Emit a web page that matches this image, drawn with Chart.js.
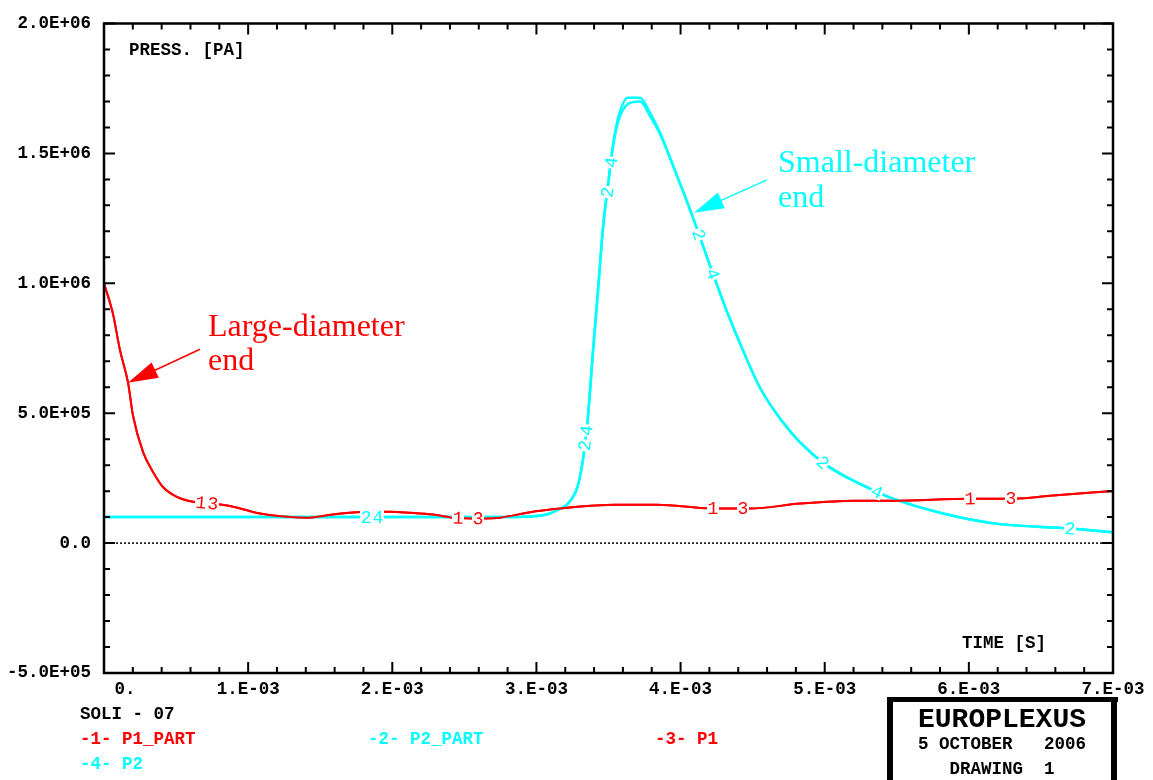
<!DOCTYPE html>
<html>
<head>
<meta charset="utf-8">
<script src="https://cdn.jsdelivr.net/npm/chart.js@4.4.0/dist/chart.umd.min.js"></script>
<style>
  html, body { margin: 0; padding: 0; background: #fff; }
  canvas { display: block; }
</style>
</head>
<body>
<canvas id="grafico" width="1153" height="780"></canvas>
<script>
// tempo [s] e pressao [Pa] de cada curva
const tempoP1 = [0, 0.062e-3, 0.111e-3, 0.167e-3, 0.201e-3, 0.271e-3, 0.340e-3, 0.409e-3, 0.506e-3, 0.617e-3,
  0.756e-3, 0.895e-3, 1.082e-3, 1.242e-3, 1.408e-3, 1.589e-3, 1.825e-3, 1.984e-3, 2.123e-3, 2.283e-3,
  2.421e-3, 2.629e-3, 2.747e-3, 2.976e-3, 3.094e-3, 3.300e-3, 3.538e-3, 3.837e-3, 4.218e-3, 4.482e-3,
  4.829e-3, 5.203e-3, 5.474e-3, 6.008e-3, 6.313e-3, 6.563e-3, 7.0e-3];
const pressaoP1Part = [1.0e6, 8.83e5, 7.42e5, 6.17e5, 4.91e5, 3.50e5, 2.74e5, 2.16e5, 1.78e5, 1.59e5,
  1.52e5, 1.40e5, 1.14e5, 1.02e5, 0.98e5, 1.10e5, 1.21e5, 1.21e5, 1.17e5, 1.10e5,
  0.98e5, 0.95e5, 0.98e5, 1.21e5, 1.29e5, 1.41e5, 1.48e5, 1.48e5, 1.33e5, 1.33e5,
  1.52e5, 1.63e5, 1.63e5, 1.71e5, 1.71e5, 1.82e5, 2.01e5];
const pressaoP1 = [1.0e6, 8.83e5, 7.42e5, 6.17e5, 4.91e5, 3.50e5, 2.74e5, 2.16e5, 1.78e5, 1.59e5,
  1.52e5, 1.40e5, 1.14e5, 1.02e5, 0.98e5, 1.10e5, 1.21e5, 1.21e5, 1.17e5, 1.10e5,
  0.98e5, 0.95e5, 0.98e5, 1.21e5, 1.29e5, 1.41e5, 1.48e5, 1.48e5, 1.33e5, 1.33e5,
  1.52e5, 1.63e5, 1.63e5, 1.71e5, 1.71e5, 1.82e5, 2.01e5];

const tempoP2 = [0, 1.0e-3, 2.0e-3, 2.8e-3, 3.0e-3, 3.094e-3, 3.164e-3, 3.212e-3, 3.289e-3, 3.323e-3,
  3.358e-3, 3.393e-3, 3.427e-3, 3.462e-3, 3.497e-3, 3.531e-3, 3.566e-3, 3.635e-3, 3.719e-3, 3.788e-3,
  3.857e-3, 3.968e-3, 4.086e-3, 4.225e-3, 4.322e-3, 4.412e-3, 4.551e-3, 4.711e-3, 4.829e-3, 5.002e-3,
  5.175e-3, 5.363e-3, 5.474e-3, 5.821e-3, 6.188e-3, 6.709e-3, 7.0e-3];
const pressaoP2Part = [1.0e5, 1.0e5, 1.0e5, 1.0e5, 1.04e5, 1.14e5, 1.33e5, 1.48e5, 2.24e5, 3.23e5,
  4.91e5, 7.42e5, 9.71e5, 1.215e6, 1.379e6, 1.531e6, 1.634e6, 1.714e6, 1.714e6, 1.656e6,
  1.58e6, 1.424e6, 1.253e6, 1.036e6, 8.91e5, 7.69e5, 5.98e5, 4.64e5, 3.88e5, 3.04e5,
  2.47e5, 1.97e5, 1.71e5, 1.14e5, 7.5e4, 5.6e4, 4.1e4];
const pressaoP2 = [1.0e5, 1.0e5, 1.0e5, 1.0e5, 1.04e5, 1.14e5, 1.33e5, 1.48e5, 2.24e5, 3.23e5,
  4.91e5, 7.42e5, 9.71e5, 1.215e6, 1.379e6, 1.525e6, 1.62e6, 1.69e6, 1.70e6, 1.645e6,
  1.575e6, 1.424e6, 1.253e6, 1.036e6, 8.91e5, 7.69e5, 5.98e5, 4.64e5, 3.88e5, 3.04e5,
  2.47e5, 1.97e5, 1.71e5, 1.14e5, 7.5e4, 5.6e4, 4.1e4];

const nomes = ["P1_PART", "P2_PART", "P1", "P2"];
const cores = ["#ff0000", "#00ffff", "#ff0000", "#00ffff"];
const espessuras = [2, 2.5, 2, 2.5];

// instantes onde o numero da curva e escrito sobre ela
const marcasCurva = [
  [0.673e-3, 2.456e-3, 4.225e-3, 6.008e-3],
  [1.818e-3, 3.334e-3, 3.491e-3, 4.128e-3, 4.988e-3, 6.702e-3],
  [0.756e-3, 2.595e-3, 4.433e-3, 6.292e-3],
  [1.901e-3, 3.346e-3, 3.517e-3, 4.225e-3, 5.363e-3]
];

const xTicksValores = [0, 1e-3, 2e-3, 3e-3, 4e-3, 5e-3, 6e-3, 7e-3];
const xTicksTextos = ["0.", "1.E-03", "2.E-03", "3.E-03", "4.E-03", "5.E-03", "6.E-03", "7.E-03"];
const yTicksValores = [-5e5, 0, 5e5, 1e6, 1.5e6, 2e6];
const yTicksTextos = ["-5.0E+05", "0.0", "5.0E+05", "1.0E+06", "1.5E+06", "2.0E+06"];

// setas com texto: ponta, cauda e texto em coordenadas dos dados
const setas = [
  { cor: "#ff0000", ponta: [0.1665e-3, 6.17e5], cauda: [0.666e-3, 7.46e5],
    texto: ["Large-diameter", "end"], pos: [0.7215e-3, 7.96e5], passo: 34 },
  { cor: "#00ffff", ponta: [4.093e-3, 1.272e6], cauda: [4.600e-3, 1.398e6],
    texto: ["Small-diameter", "end"], pos: [4.676e-3, 1.428e6], passo: 35 }
];

const MONO = "'Liberation Mono', 'Courier New', monospace";

function serie(t, p) {
  return t.map((v, i) => ({ x: v, y: p[i] }));
}

function rotulo(v, valores, textos, tol) {
  const i = valores.findIndex(a => Math.abs(a - v) < tol);
  return i < 0 ? "" : textos[i];
}

function pontoNaCurva(chart, idx, xv) {
  const d = chart.data.datasets[idx].data;
  const xs = chart.scales.x, ys = chart.scales.y;
  for (let i = 0; i < d.length - 1; i++) {
    if (xv >= d[i].x && xv <= d[i + 1].x) {
      const t = (xv - d[i].x) / (d[i + 1].x - d[i].x);
      const yv = d[i].y + t * (d[i + 1].y - d[i].y);
      const ang = Math.atan2(ys.getPixelForValue(d[i + 1].y) - ys.getPixelForValue(d[i].y),
        xs.getPixelForValue(d[i + 1].x) - xs.getPixelForValue(d[i].x));
      return { px: xs.getPixelForValue(xv), py: ys.getPixelForValue(yv), ang };
    }
  }
  return null;
}

const moldura = {
  id: "moldura",
  beforeDatasetsDraw(chart) {
    const { ctx, chartArea: a, scales: { y } } = chart;
    // linha do zero pontilhada
    ctx.save();
    ctx.strokeStyle = "#000";
    ctx.lineWidth = 1.5;
    ctx.setLineDash([2, 2]);
    const y0 = y.getPixelForValue(0);
    ctx.beginPath();
    ctx.moveTo(a.left, y0);
    ctx.lineTo(a.right, y0);
    ctx.stroke();
    ctx.restore();
  },
  afterDatasetsDraw(chart) {
    const ctx = chart.ctx;
    ctx.save();
    ctx.font = "18px " + MONO;
    ctx.textAlign = "center";
    ctx.textBaseline = "middle";
    marcasCurva.forEach((lista, idx) => {
      lista.forEach(xv => {
        const p = pontoNaCurva(chart, idx, xv);
        if (!p) return;
        ctx.save();
        ctx.translate(p.px, p.py);
        ctx.rotate(p.ang);
        ctx.fillStyle = "#fff";
        ctx.fillRect(-6, -7, 12, 14);
        ctx.fillStyle = cores[idx];
        ctx.fillText(String(idx + 1), 0, 1);
        ctx.restore();
      });
    });
    ctx.restore();
  },
  afterDraw(chart) {
    const { ctx, chartArea: a, scales: { x, y } } = chart;
    ctx.save();

    // marcas dos eixos para dentro, nos quatro lados
    ctx.strokeStyle = "#000";
    ctx.lineWidth = 2;
    x.ticks.forEach(t => {
      const px = x.getPixelForValue(t.value);
      const len = rotulo(t.value, xTicksValores, xTicksTextos, 1e-9) ? 11 : 6;
      ctx.beginPath();
      ctx.moveTo(px, a.bottom); ctx.lineTo(px, a.bottom - len);
      ctx.moveTo(px, a.top); ctx.lineTo(px, a.top + len);
      ctx.stroke();
    });
    y.ticks.forEach(t => {
      const py = y.getPixelForValue(t.value);
      const len = rotulo(t.value, yTicksValores, yTicksTextos, 1) ? 11 : 6;
      ctx.beginPath();
      ctx.moveTo(a.left, py); ctx.lineTo(a.left + len, py);
      ctx.moveTo(a.right, py); ctx.lineTo(a.right - len, py);
      ctx.stroke();
    });
    ctx.lineWidth = 2.5;
    ctx.strokeRect(a.left, a.top, a.right - a.left, a.bottom - a.top);

    // titulos dos eixos
    ctx.fillStyle = "#000";
    ctx.font = "bold 17.5px " + MONO;
    ctx.textAlign = "left";
    ctx.textBaseline = "middle";
    ctx.fillText("PRESS. [PA]", a.left + 25, a.top + 27);
    ctx.fillText("TIME [S]", a.right - 151, a.bottom - 29);

    // setas e textos
    setas.forEach(s => {
      const tx = x.getPixelForValue(s.ponta[0]), ty = y.getPixelForValue(s.ponta[1]);
      const cx = x.getPixelForValue(s.cauda[0]), cy = y.getPixelForValue(s.cauda[1]);
      const ang = Math.atan2(ty - cy, tx - cx);
      ctx.strokeStyle = s.cor;
      ctx.fillStyle = s.cor;
      ctx.lineWidth = 1.5;
      ctx.beginPath();
      ctx.moveTo(cx, cy);
      ctx.lineTo(tx - 28 * Math.cos(ang), ty - 28 * Math.sin(ang));
      ctx.stroke();
      ctx.beginPath();
      ctx.moveTo(tx, ty);
      ctx.lineTo(tx - 30 * Math.cos(ang) + 8.5 * Math.sin(ang), ty - 30 * Math.sin(ang) - 8.5 * Math.cos(ang));
      ctx.lineTo(tx - 30 * Math.cos(ang) - 8.5 * Math.sin(ang), ty - 30 * Math.sin(ang) + 8.5 * Math.cos(ang));
      ctx.closePath();
      ctx.fill();
      ctx.font = "32px 'Liberation Serif', 'Times New Roman', serif";
      ctx.textAlign = "left";
      ctx.textBaseline = "alphabetic";
      const bx = x.getPixelForValue(s.pos[0]), by = y.getPixelForValue(s.pos[1]);
      s.texto.forEach((linha, i) => ctx.fillText(linha, bx, by + i * s.passo));
    });

    // legenda de baixo
    ctx.font = "bold 17.5px " + MONO;
    ctx.textAlign = "left";
    ctx.textBaseline = "middle";
    ctx.fillStyle = "#000";
    ctx.fillText("SOLI - 07", 80, 715);
    const posLeg = [[80, 740], [368, 740], [655, 740], [80, 765]];
    nomes.forEach((n, i) => {
      ctx.fillStyle = cores[i];
      ctx.fillText("-" + (i + 1) + "- " + n, posLeg[i][0], posLeg[i][1]);
    });

    // quadro EUROPLEXUS
    ctx.fillStyle = "#000";
    ctx.fillRect(887, 697, 231, 5);
    ctx.fillRect(887, 697, 6, 90);
    ctx.fillRect(1111, 697, 6, 90);
    ctx.textAlign = "center";
    ctx.font = "bold 28px " + MONO;
    ctx.fillText("EUROPLEXUS", 1002, 720);
    ctx.font = "bold 17.5px " + MONO;
    ctx.fillText("5 OCTOBER   2006", 1002, 745);
    ctx.fillText("DRAWING  1", 1002, 770);
    ctx.restore();
  }
};

const eixoFonte = { family: MONO, size: 17.5, weight: "bold" };

new Chart(document.getElementById("grafico"), {
  type: "line",
  data: {
    datasets: [
      { label: nomes[0], data: serie(tempoP1, pressaoP1Part) },
      { label: nomes[1], data: serie(tempoP2, pressaoP2Part) },
      { label: nomes[2], data: serie(tempoP1, pressaoP1) },
      { label: nomes[3], data: serie(tempoP2, pressaoP2) }
    ].map((d, i) => Object.assign(d, {
      borderColor: cores[i],
      borderWidth: espessuras[i],
      pointRadius: 0,
      fill: false,
      cubicInterpolationMode: "monotone"
    }))
  },
  options: {
    responsive: false,
    animation: false,
    devicePixelRatio: 1,
    layout: { padding: { top: 17, right: 40, left: 0, bottom: 0 } },
    plugins: { legend: { display: false }, tooltip: { enabled: false } },
    scales: {
      x: {
        type: "linear",
        min: 0,
        max: 7e-3,
        grid: { display: false, drawTicks: false },
        border: { display: false },
        afterFit: s => { s.height = 107; },
        ticks: {
          stepSize: 2e-4,
          autoSkip: false,
          maxRotation: 0,
          padding: 6,
          color: "#000",
          font: eixoFonte,
          callback: v => {
            const t = rotulo(v, xTicksValores, xTicksTextos, 1e-9);
            return v === 0 ? "    " + t : t;
          }
        }
      },
      y: {
        min: -5e5,
        max: 2e6,
        grid: { display: false, drawTicks: false },
        border: { display: false },
        afterFit: s => { s.width = 104; },
        ticks: {
          stepSize: 1e5,
          autoSkip: false,
          padding: 13,
          color: "#000",
          font: eixoFonte,
          callback: v => rotulo(v, yTicksValores, yTicksTextos, 1)
        }
      }
    }
  },
  plugins: [moldura]
});
</script>
</body>
</html>
